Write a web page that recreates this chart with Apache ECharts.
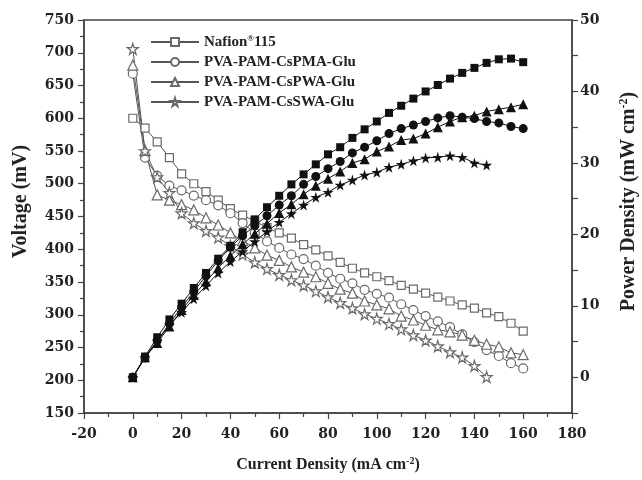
<!DOCTYPE html>
<html>
<head>
<meta charset="utf-8">
<script src="https://cdn.jsdelivr.net/npm/echarts@6/dist/echarts.min.js"></script>
<style>
  html, body { margin: 0; padding: 0; background: #fff; }
  #chart { width: 642px; height: 480px; }
</style>
</head>
<body>
<div id="chart"></div>
<script>
// current density steps (mA cm-2)
const current = [0,5,10,15,20,25,30,35,40,45,50,55,60,65,70,75,80,85,90,95,100,105,110,115,120,125,130,135,140,145,150,155,160];

const names = ['Nafion115', 'PVA-PAM-CsPMA-Glu', 'PVA-PAM-CsPWA-Glu', 'PVA-PAM-CsSWA-Glu'];

// voltage (mV)
const voltNafion = [600,585,564,540,515,500,488,475,462,452,443,433,425,417,407,399,390,380,371,364,358,352,345,339,333,327,321,315,310,303,297,287,275];
const voltPMA = [668,540,512,497,490,482,475,467,455,440,425,412,402,392,385,375,364,355,348,338,332,326,316,307,298,290,281,270,258,246,237,226,218];
const voltPWA = [681,551,483,475,468,460,448,437,425,413,402,391,383,373,365,358,348,339,333,321,315,309,298,292,284,277,274,269,261,255,251,242,239];
const voltSWA = [706,550,510,486,455,440,428,418,405,392,380,370,361,353,345,336,327,318,310,301,294,286,278,269,261,252,243,235,222,205];

// power density (mW cm-2)
const powNafion = [0,2.9,5.6,8.1,10.3,12.5,14.6,16.6,18.4,20.3,22.1,23.8,25.4,27.0,28.4,29.8,31.2,32.2,33.5,34.7,35.8,37.0,38.0,39.0,40.0,40.9,41.8,42.6,43.3,44.0,44.5,44.6,44.1];
const powPMA = [0,2.7,5.1,7.5,9.8,12.0,14.2,16.3,18.2,19.8,21.2,22.6,24.1,25.4,27.0,28.1,29.2,30.2,31.4,32.2,33.1,34.1,34.8,35.3,35.8,36.3,36.6,36.4,36.2,35.8,35.6,35.1,34.8];
const powPWA = [0,2.8,4.8,7.1,9.4,11.5,13.4,15.3,17.0,18.6,20.1,21.5,23.0,24.2,25.6,26.8,27.8,28.8,30.0,30.5,31.6,32.3,33.2,33.4,34.1,35.0,35.8,36.4,36.6,37.2,37.5,37.8,38.2];
const powSWA = [0,2.8,5.1,7.3,9.1,11.0,12.8,14.6,16.2,17.6,19.0,20.4,21.7,22.9,24.1,25.2,25.9,26.9,27.6,28.3,28.7,29.4,29.8,30.3,30.7,30.8,31.0,30.8,30.0,29.7];

const star = 'path://M50,0 L61,35 L98,35 L68,57 L79,91 L50,70 L21,91 L32,57 L2,35 L39,35 Z';
const symbols = ['rect', 'circle', 'triangle', star];
const sizes = [8, 9, 10, 11];
const volts = [voltNafion, voltPMA, voltPWA, voltSWA];
const pows = [powNafion, powPMA, powPWA, powSWA];

const font = '"Liberation Serif", "Times New Roman", serif';
const tickFont = '"DejaVu Serif", serif';
const ink = '#222';

const pairs = arr => arr.map((v, i) => [current[i], v]);

const series = [];
names.forEach((name, k) => {
  series.push({
    name: name,
    type: 'line',
    yAxisIndex: 0,
    data: pairs(volts[k]),
    symbol: symbols[k],
    symbolSize: sizes[k],
    showAllSymbol: true,
    lineStyle: { color: '#555', width: 1 },
    itemStyle: { color: '#fff', borderColor: '#6a6a6a', borderWidth: 1.2 },
    z: 2
  });
});
names.forEach((name, k) => {
  series.push({
    name: name + ' power',
    type: 'line',
    yAxisIndex: 1,
    data: pairs(pows[k]),
    symbol: symbols[k],
    symbolSize: sizes[k],
    showAllSymbol: true,
    lineStyle: { color: '#111', width: 1 },
    itemStyle: { color: '#111', borderColor: '#111', borderWidth: 0 },
    z: 3
  });
});

const supStyle = size => ({ fontSize: size, fontFamily: font, fontWeight: 'bold', color: ink, verticalAlign: 'top', padding: [0, 0, Math.round(size * 0.8), 0] });

const axisCommon = {
  axisLine: { show: true, onZero: false, lineStyle: { color: '#444', width: 1.5 } },
  axisTick: { show: true, inside: false, length: 6, lineStyle: { color: '#444', width: 1.2 } },
  splitLine: { show: false },
  axisLabel: { color: ink, fontFamily: tickFont, fontWeight: 'bold', fontSize: 14 }
};

const chart = echarts.init(document.getElementById('chart'));
chart.setOption({
  animation: false,
  backgroundColor: '#fff',
  grid: {
    left: 84, right: 70, top: 20, bottom: 67,
    outerBoundsMode: 'none', containLabel: false,
    show: true, borderColor: '#444', borderWidth: 1.5
  },
  legend: {
    data: names,
    orient: 'vertical',
    left: 145,
    top: 29,
    itemWidth: 48,
    itemHeight: 10,
    itemGap: 5,
    formatter: n => n === 'Nafion115' ? 'Nafion{sup|®}115' : n,
    textStyle: {
      color: ink, fontFamily: font, fontWeight: 'bold', fontSize: 15,
      rich: { sup: supStyle(9) }
    }
  },
  xAxis: Object.assign({}, axisCommon, {
    type: 'value',
    min: -20, max: 180, interval: 20,
    minorTick: { show: true, splitNumber: 2, length: 4, lineStyle: { color: '#444', width: 1.2 } },
    axisLabel: Object.assign({}, axisCommon.axisLabel, { margin: 14 }),
    name: 'Current Density (mA cm{sup|-2})',
    nameLocation: 'middle',
    nameGap: 43,
    nameTextStyle: {
      color: ink, fontFamily: font, fontWeight: 'bold', fontSize: 16,
      rich: { main: {}, sup: supStyle(10) }
    }
  }),
  yAxis: [
    Object.assign({}, axisCommon, {
      type: 'value',
      position: 'left',
      min: 150, max: 750, interval: 50,
      minorTick: { show: true, splitNumber: 2, length: 4, lineStyle: { color: '#444', width: 1.2 } },
      axisLabel: Object.assign({}, axisCommon.axisLabel, { margin: 10 }),
      name: 'Voltage (mV)',
      nameLocation: 'middle',
      nameRotate: 90,
      nameGap: 53,
      nameTextStyle: { color: ink, fontFamily: font, fontWeight: 'bold', fontSize: 20, padding: [0, 0, 0, 30] }
    }),
    Object.assign({}, axisCommon, {
      type: 'value',
      position: 'right',
      min: -5, max: 50, interval: 5,
      axisLabel: Object.assign({}, axisCommon.axisLabel, {
        margin: 8,
        formatter: v => (v % 10 === 0 ? String(v) : '')
      }),
      name: 'Power Density (mW cm{sup|-2})',
      nameLocation: 'middle',
      nameRotate: 90,
      nameGap: 46,
      nameTextStyle: {
        color: ink, fontFamily: font, fontWeight: 'bold', fontSize: 20, padding: [0, 0, 0, 30],
        rich: { sup: supStyle(12) }
      }
    })
  ],
  series: series
});
</script>
</body>
</html>
